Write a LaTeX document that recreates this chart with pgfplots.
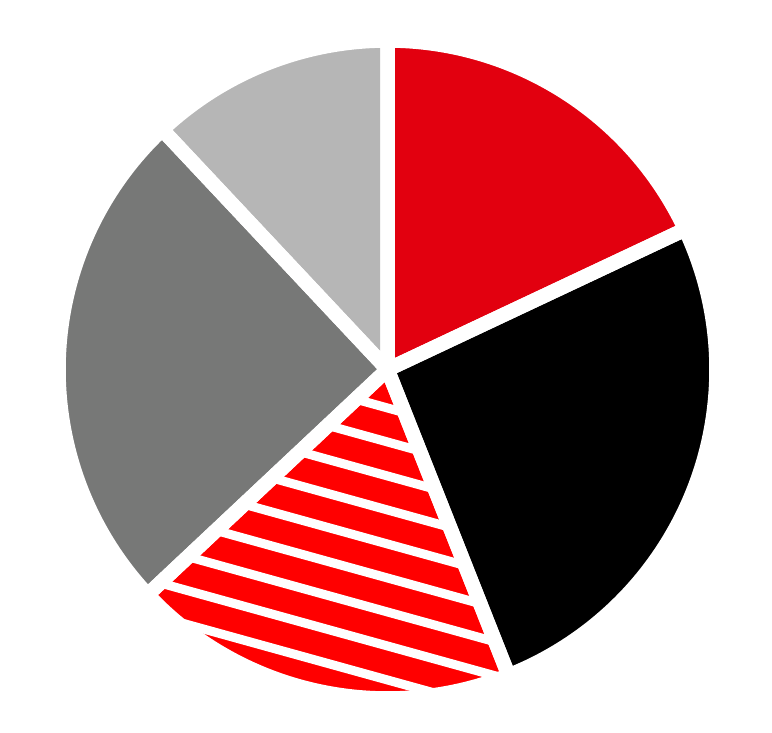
\documentclass[border=0pt]{standalone}
\usepackage{pgfplots}
\usepackage{pgfplotstable}
\pgfplotsset{compat=1.18}
\definecolor{pieRed}{HTML}{E2000F}
\definecolor{pieHatch}{HTML}{FF0000}
\definecolor{pieDark}{HTML}{777877}
\definecolor{pieLight}{HTML}{B6B6B6}
\pgfplotstableread{
share colour
18 pieRed
26 black
19 pieHatch
25 pieDark
12 pieLight
}\piedata
\begin{document}
\begin{tikzpicture}
\begin{axis}[x=1bp, y=1bp, xmin=0, xmax=772, ymin=0, ymax=728, hide axis, clip=false]
\addplot[draw=none, forget plot] coordinates {(0,0) (772,728)};
\def\cx{387.5}\def\cy{358.5}\def\R{329}
% fills
\pgfmathsetmacro{\startang}{90}
\pgfplotsforeachungrouped \i in {0,...,4}{%
  \pgfplotstablegetelem{\i}{share}\of\piedata
  \pgfmathsetmacro{\endang}{\startang-3.6*\pgfplotsretval}%
  \pgfplotstablegetelem{\i}{colour}\of\piedata
  \edef\cmd{\noexpand\fill[\pgfplotsretval] (axis cs:\cx,\cy) -- ++(\startang:\R bp) arc[start angle=\startang, end angle=\endang, radius=\R bp] -- cycle;}%
  \cmd
  \ifnum\i=2 \xdef\hstart{\startang}\xdef\hend{\endang}\fi
  \global\let\startang\endang
}
% hatching of the third slice
\edef\cmd{\noexpand\begin{scope}\noexpand\clip (axis cs:\cx,\cy) -- ++(\hstart:\R bp) arc[start angle=\hstart, end angle=\hend, radius=\R bp] -- cycle;}
\cmd
\pgfplotsforeachungrouped \k in {-12,...,12}{%
  \pgfmathsetmacro{\ya}{169.2+0.277*195.5+34*\k}%
  \pgfmathsetmacro{\yb}{169.2-0.277*576.5+34*\k}%
  \edef\cmd{\noexpand\draw[white, line width=9bp] (axis cs:0,\ya) -- (axis cs:772,\yb);}%
  \cmd
}
\end{scope}
% white borders
\pgfmathsetmacro{\startang}{90}
\pgfplotsforeachungrouped \i in {0,...,4}{%
  \pgfplotstablegetelem{\i}{share}\of\piedata
  \pgfmathsetmacro{\endang}{\startang-3.6*\pgfplotsretval}%
  \edef\cmd{\noexpand\draw[white, line width=14.5bp, line join=round] (axis cs:\cx,\cy) -- ++(\startang:\R bp) arc[start angle=\startang, end angle=\endang, radius=\R bp] -- cycle;}%
  \cmd
  \global\let\startang\endang
}
\end{axis}
\end{tikzpicture}
\end{document}
